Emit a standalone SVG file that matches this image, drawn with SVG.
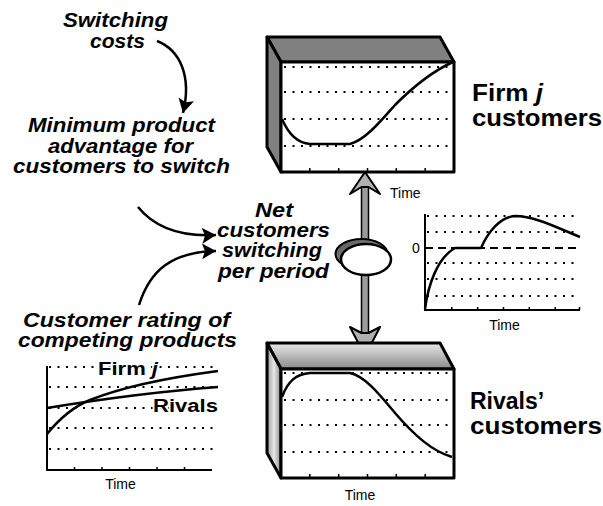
<svg xmlns="http://www.w3.org/2000/svg" width="603" height="506" viewBox="0 0 603 506">
<style>
.lbl{font-family:"Liberation Sans",Arial,sans-serif;font-weight:bold;font-style:italic;font-size:19.5px;text-anchor:middle;fill:#000}
.big{font-family:"Liberation Sans",Arial,sans-serif;font-weight:bold;font-size:23px;fill:#000}
.sm{font-family:"Liberation Sans",Arial,sans-serif;font-weight:bold;font-size:18px;fill:#000;stroke:#fff;stroke-width:3;paint-order:stroke}
.t{font-family:"Liberation Sans",Arial,sans-serif;font-size:14px;fill:#000}
.dot{stroke:#000;stroke-width:2;stroke-dasharray:2 6.5;fill:none}
.crv{fill:none;stroke:#000;stroke-width:2.5;stroke-linejoin:round}
.edge{stroke:#000;stroke-width:3;stroke-linejoin:round}
.ax{fill:none;stroke:#000;stroke-width:2}
.tick{stroke:#000;stroke-width:1.5}
.conn{fill:none;stroke:#000;stroke-width:2.5}
</style>
<defs>
<marker id="ah" markerUnits="userSpaceOnUse" markerWidth="20" markerHeight="20" refX="14" refY="8" orient="auto">
<path d="M0,0 L14,8 L0,16 L3,8 Z" fill="#000"/>
</marker>
<linearGradient id="gTop" x1="0" y1="0" x2="0" y2="1">
<stop offset="0" stop-color="#e8e8e8"/><stop offset="1" stop-color="#8a8a8a"/>
</linearGradient>
<linearGradient id="gLeft" x1="0" y1="0" x2="1" y2="0">
<stop offset="0" stop-color="#9a9a9a"/><stop offset="0.5" stop-color="#e6e6e6"/><stop offset="1" stop-color="#8a8a8a"/>
</linearGradient>
<linearGradient id="gValve" x1="0" y1="0" x2="1" y2="1">
<stop offset="0" stop-color="#555"/><stop offset="1" stop-color="#aaa"/>
</linearGradient>
</defs>

<!-- connectors -->
<g id="connectors">
<path class="conn" d="M157,41 C180,50 192,76 183,113" marker-end="url(#ah)"/>
<path class="conn" d="M138,207 C155,228 180,237 216,235" marker-end="url(#ah)"/>
<path class="conn" d="M139,305 C150,270 172,252 216,251" marker-end="url(#ah)"/>
<!-- flow pipe -->
<rect x="361.5" y="185" width="7" height="150" fill="#9a9a9a" stroke="#000" stroke-width="1.5"/>
<path d="M365,172 L380,194 L368.5,187 L361.5,187 L350,194 Z" fill="#b0b0b0" stroke="#000" stroke-width="2" stroke-linejoin="round"/>
<path d="M365,356 L380,327 L368.5,333 L361.5,333 L350,327 Z" fill="#b0b0b0" stroke="#000" stroke-width="2" stroke-linejoin="round"/>
</g>

<!-- valve -->
<g id="valve">
<ellipse cx="361.5" cy="254" rx="26" ry="15" fill="url(#gValve)" stroke="#000" stroke-width="2"/>
<ellipse cx="366" cy="259.5" rx="25" ry="15.5" fill="#fff" stroke="#000" stroke-width="2.5"/>
</g>

<!-- labels -->
<g id="switching-costs">
<text class="lbl" x="115.5" y="27" textLength="105" lengthAdjust="spacingAndGlyphs">Switching</text>
<text class="lbl" x="117.5" y="48" textLength="55" lengthAdjust="spacingAndGlyphs">costs</text>
</g>
<g id="min-advantage">
<text class="lbl" x="121.5" y="132" textLength="187" lengthAdjust="spacingAndGlyphs">Minimum product</text>
<text class="lbl" x="120.5" y="152.5" textLength="145" lengthAdjust="spacingAndGlyphs">advantage for</text>
<text class="lbl" x="121.5" y="173" textLength="217" lengthAdjust="spacingAndGlyphs">customers to switch</text>
</g>
<g id="net-switching">
<text class="lbl" x="274" y="216.5" textLength="38" lengthAdjust="spacingAndGlyphs">Net</text>
<text class="lbl" x="273.5" y="236.5" textLength="113" lengthAdjust="spacingAndGlyphs">customers</text>
<text class="lbl" x="272" y="257" textLength="100" lengthAdjust="spacingAndGlyphs">switching</text>
<text class="lbl" x="273.5" y="278" textLength="111" lengthAdjust="spacingAndGlyphs">per period</text>
</g>
<g id="customer-rating">
<text class="lbl" x="126.5" y="327" textLength="207" lengthAdjust="spacingAndGlyphs">Customer rating of</text>
<text class="lbl" x="127.5" y="347" textLength="219" lengthAdjust="spacingAndGlyphs">competing products</text>
</g>

<!-- Firm j customers stock -->
<g id="firm-j-customers">
<polygon class="edge" points="267,37 440,37 454,62 281,62" fill="#808080"/>
<polygon class="edge" points="267,37 281,62 281,172 267,147" fill="#808080"/>
<rect class="edge" x="281" y="62" width="173" height="110" fill="#fff"/>
<line class="dot" x1="284" y1="67" x2="454" y2="67"/>
<line class="dot" x1="284" y1="92" x2="454" y2="92"/>
<line class="dot" x1="284" y1="119" x2="454" y2="119"/>
<line class="dot" x1="284" y1="146" x2="454" y2="146"/>
<path class="tick" d="M309.8,172v-4 M338.7,172v-4 M367.5,172v-4 M396.3,172v-4 M425.2,172v-4"/>
<path class="crv" d="M282,119 C288,133 296,143 310,144 L350,144 C365,140 380,122 395,105 C415,85 435,70 453,62"/>
<text class="t" x="390" y="198">Time</text>
<text class="big" x="472" y="101" textLength="71" lengthAdjust="spacingAndGlyphs">Firm <tspan font-style="italic">j</tspan></text>
<text class="big" x="472" y="126" textLength="130" lengthAdjust="spacingAndGlyphs">customers</text>
</g>

<!-- Rivals' customers stock -->
<g id="rivals-customers">
<polygon class="edge" points="267,343 440,343 454,369 281,369" fill="url(#gTop)"/>
<polygon class="edge" points="267,343 281,369 281,478 267,453" fill="url(#gLeft)"/>
<rect class="edge" x="281" y="369" width="173" height="109" fill="#fff"/>
<line class="dot" x1="284" y1="373" x2="454" y2="373"/>
<line class="dot" x1="284" y1="400" x2="454" y2="400"/>
<line class="dot" x1="284" y1="425" x2="454" y2="425"/>
<line class="dot" x1="284" y1="452" x2="454" y2="452"/>
<path class="tick" d="M309.8,478v-4 M338.7,478v-4 M367.5,478v-4 M396.3,478v-4 M425.2,478v-4"/>
<path class="crv" d="M282,397 C288,381 296,374 310,373 L350,373 C365,376 380,395 395,413 C415,436 432,451 452,457"/>
<text class="t" x="360" y="500" text-anchor="middle">Time</text>
<text class="big" x="470" y="409">Rivals’</text>
<text class="big" x="470" y="434" textLength="132" lengthAdjust="spacingAndGlyphs">customers</text>
</g>

<!-- net switching graph -->
<g id="net-switching-graph">
<line class="dot" x1="427" y1="216" x2="580" y2="216"/>
<line class="dot" x1="427" y1="232" x2="580" y2="232"/>
<line x1="425" y1="248" x2="580" y2="248" stroke="#000" stroke-width="2" stroke-dasharray="8 5"/>
<line class="dot" x1="427" y1="263" x2="580" y2="263"/>
<line class="dot" x1="427" y1="279" x2="580" y2="279"/>
<line class="dot" x1="427" y1="296" x2="580" y2="296"/>
<path class="ax" d="M425,214 V310 H580"/>
<path class="tick" d="M451.8,310v-3 M477.7,310v-3 M503.5,310v-3 M529.3,310v-3 M555.2,310v-3 M579.5,310v-3"/>
<path class="crv" d="M425,309 C428,286 437,258 455,248 L481,248 C488,232 500,217 515,216 C535,216 560,229 580,237"/>
<text class="t" x="416" y="253" text-anchor="middle">0</text>
<text class="t" x="504.5" y="330" text-anchor="middle">Time</text>
</g>

<!-- customer rating graph -->
<g id="rating-graph">
<line class="dot" x1="49" y1="367" x2="218" y2="367"/>
<line class="dot" x1="49" y1="387" x2="218" y2="387"/>
<line class="dot" x1="49" y1="408" x2="218" y2="408"/>
<line class="dot" x1="49" y1="428" x2="218" y2="428"/>
<line class="dot" x1="49" y1="449" x2="218" y2="449"/>
<path class="ax" d="M47,366 V470 H212"/>
<path class="tick" d="M74.5,470v-3 M102,470v-3 M129.5,470v-3 M157,470v-3 M184.5,470v-3"/>
<text class="sm" x="98" y="375" textLength="60" lengthAdjust="spacingAndGlyphs">Firm <tspan font-style="italic">j</tspan></text>
<text class="sm" x="153" y="412" textLength="65" lengthAdjust="spacingAndGlyphs">Rivals</text>
<path class="crv" d="M47,434 C60,418 75,406 90,400 C115,390 150,380 218,371"/>
<path class="crv" d="M47,408 C90,401 150,392 218,387"/>
<text class="t" x="120.5" y="489" text-anchor="middle">Time</text>
</g>
</svg>
